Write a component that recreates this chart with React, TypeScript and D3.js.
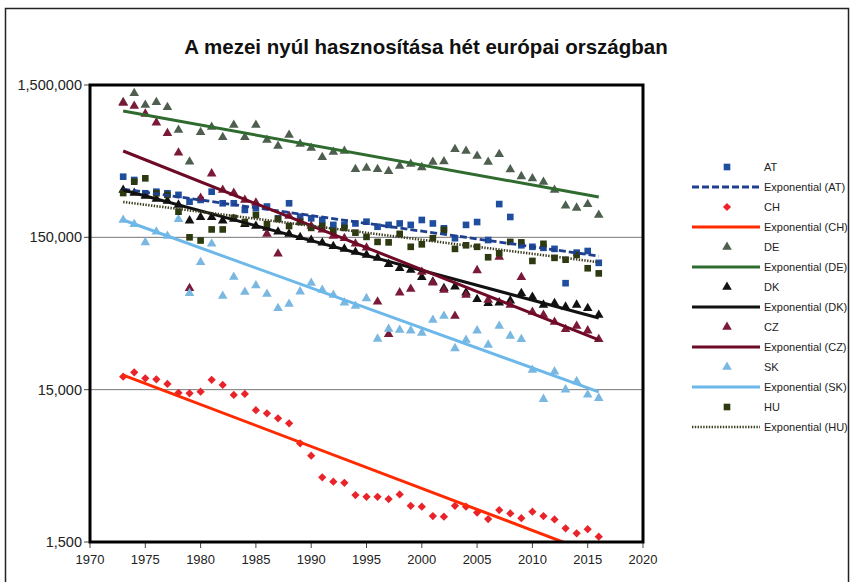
import React from "react";
import * as d3 from "d3";

const years = [1973,1974,1975,1976,1977,1978,1979,1980,1981,1982,1983,1984,1985,1986,1987,1988,1989,1990,1991,1992,1993,1994,1995,1996,1997,1998,1999,2000,2001,2002,2003,2004,2005,2006,2007,2008,2009,2010,2011,2012,2013,2014,2015,2016];

const AT = [375000,357000,292000,299000,292000,285000,257000,264000,299000,251000,251000,227000,233000,239000,200000,251000,205000,200000,195000,181000,181000,185000,190000,176000,181000,185000,181000,195000,185000,172000,148000,181000,189000,144000,248000,204000,133000,130000,128000,126000,75000,119000,122000,102000];
const CH = [18250,19500,17800,17550,16350,14300,14200,14550,17400,16100,13850,14050,11000,10500,9730,9020,6670,5530,3990,3730,3670,3050,2970,2970,2870,3080,2590,2560,2220,2200,2590,2560,2340,2120,2430,2310,2150,2370,2220,2110,1845,1710,1820,1625];
const DE = [1155000,1323000,1109000,1155000,1071000,760000,470000,734000,795000,680000,820000,680000,820000,653000,597000,705000,615000,579000,503000,545000,553000,420000,428000,420000,407000,441000,454000,432000,468000,472000,568000,553000,513000,468000,526000,418000,377000,365000,346000,307000,242000,234000,247000,210000];
const DK = [307000,293000,280000,268000,260000,245000,193000,203000,203000,193000,198000,183000,178000,173000,163000,158000,150000,144000,138000,131000,126000,120000,115000,110000,100000,94000,91600,82000,76700,69500,71200,65000,58800,55300,55900,57600,64400,60900,54000,55300,52400,54000,51300,46400];
const CZ = [1142000,1091000,969000,849000,723000,539000,69400,272000,393000,307000,293000,264000,253000,158000,117000,207000,189000,178000,168000,153000,148000,136000,128000,56700,34700,65000,68700,88900,75600,67700,45700,62700,91000,58200,111600,54000,82000,48500,46400,41700,37400,39300,36600,32100];
const SK = [195000,183000,139000,163000,153000,197000,64400,103000,136000,61800,82400,65700,72400,63700,51300,54800,66000,75200,67700,62700,55900,53100,59600,32300,37500,37000,36600,35400,43000,45700,28000,31800,36600,29500,39300,33800,32100,20200,13000,19700,15000,17000,13900,13200];
const HU = [293000,348000,366000,292000,285000,221000,150000,143000,169000,169000,201000,189000,210000,183000,198000,178000,189000,173000,178000,165000,173000,161000,151000,140000,139000,158000,130000,135000,148000,168000,126000,133000,130000,111000,118000,140000,139000,105000,136000,110000,107000,115000,94000,87000];

const seriesNames = ["AT", "CH", "DE", "DK", "CZ", "SK", "HU"];
const seriesValues = [AT, CH, DE, DK, CZ, SK, HU];
// exponential trend values at first and last year
const trendStart = [311000, 18700, 1012000, 307000, 553000, 195000, 256000];
const trendEnd = [113000, 1221, 276000, 44300, 31800, 14500, 103000];

const xTicks = [1970, 1975, 1980, 1985, 1990, 1995, 2000, 2005, 2010, 2015, 2020];
const yTicks = [1500, 15000, 150000, 1500000];
const title = "A mezei nyúl hasznosítása hét európai országban";

const styles: Record<string, { marker: string; shape: string; line: string; width: number; dash?: string }> = {
  AT: { marker: "#1f4e9e", shape: "square", line: "#1f3f8f", width: 2.8, dash: "7,3" },
  CH: { marker: "#e8242a", shape: "diamond", line: "#ff2a00", width: 3 },
  DE: { marker: "#4f5f4f", shape: "triangle", line: "#2f6a2f", width: 3 },
  DK: { marker: "#111111", shape: "triangle", line: "#111111", width: 3 },
  CZ: { marker: "#7a1a38", shape: "triangle", line: "#6e0a26", width: 3 },
  SK: { marker: "#7ab8e2", shape: "triangle", line: "#6cb8ea", width: 3 },
  HU: { marker: "#2d3a10", shape: "square", line: "#3c3c20", width: 2.6, dash: "1.4,1.4" },
};

const FONT = "Arial, 'Liberation Sans', sans-serif";

function markerPath(shape: string) {
  if (shape === "triangle") return d3.symbol().type(d3.symbolTriangle).size(40)();
  return d3.symbol().type(d3.symbolSquare).size(shape === "diamond" ? 34 : 44)();
}

export default function App() {
  const W = 851, H = 582;
  const x = d3.scaleLinear().domain([1970, 2020]).range([90, 643]);
  const y = d3.scaleLog().domain([1500, 1500000]).range([542, 85]);
  const fmt = d3.format(",");
  const line = d3.line<[number, number]>().x((d) => x(d[0])).y((d) => y(d[1]));

  const legendY0 = 167, legendStep = 20;

  return (
    <svg width={W} height={H} style={{ position: "absolute", left: 0, top: 0, background: "#fff" }} fontFamily={FONT}>
      <defs>
        <clipPath id="plot">
          <rect x={x(1970)} y={y(1500000)} width={x(2020) - x(1970)} height={y(1500) - y(1500000)} />
        </clipPath>
      </defs>
      <rect x={0} y={0} width={W} height={H} fill="#fff" />
      <rect x={5.5} y={8.5} width={843} height={620} fill="none" stroke="#222" strokeWidth={1.5} />
      <text x={426} y={54} textAnchor="middle" fontSize={20.5} fontWeight="bold" fill="#111">{title}</text>

      {/* grid */}
      {yTicks.slice(1, -1).map((t) => (
        <line key={t} x1={x(1970)} x2={x(2020)} y1={y(t)} y2={y(t)} stroke="#777" strokeWidth={1} />
      ))}

      {/* y axis ticks */}
      {yTicks.map((t) => (
        <g key={t}>
          <line x1={x(1970) - 6} x2={x(1970)} y1={y(t)} y2={y(t)} stroke="#444" strokeWidth={1} />
          <text x={x(1970) - 8} y={y(t) + 5} textAnchor="end" fontSize={14.5} fill="#222">{fmt(t)}</text>
        </g>
      ))}
      {/* x axis ticks */}
      {xTicks.map((t) => (
        <g key={t}>
          <line x1={x(t)} x2={x(t)} y1={y(1500)} y2={y(1500) + 6} stroke="#444" strokeWidth={1} />
          <text x={x(t)} y={y(1500) + 22} textAnchor="middle" fontSize={13} fill="#222">{t}</text>
        </g>
      ))}

      <g clipPath="url(#plot)">
        {seriesNames.map((name, si) => {
          const st = styles[name];
          const p = markerPath(st.shape);
          return (
            <g key={name}>
              {seriesValues[si].map((v, i) => (
                <path key={i} d={p} fill={st.marker}
                  transform={`translate(${x(years[i])},${y(v)})${st.shape === "diamond" ? " rotate(45)" : ""}`} />
              ))}
            </g>
          );
        })}
        {seriesNames.map((name, si) => {
          const st = styles[name];
          const pts: [number, number][] = [[years[0], trendStart[si]], [years[years.length - 1], trendEnd[si]]];
          return (
            <path key={name} d={line(pts) || ""} fill="none" stroke={st.line} strokeWidth={st.width}
              strokeDasharray={st.dash} />
          );
        })}
      </g>

      {/* frame */}
      <rect x={x(1970)} y={y(1500000)} width={x(2020) - x(1970)} height={y(1500) - y(1500000)} fill="none" stroke="#000" strokeWidth={3} />

      {/* legend */}
      {seriesNames.map((name, si) => {
        const st = styles[name];
        const ym = legendY0 + si * 2 * legendStep;
        const yl = ym + legendStep;
        return (
          <g key={name}>
            <path d={markerPath(st.shape)} fill={st.marker}
              transform={`translate(727,${ym})${st.shape === "diamond" ? " rotate(45)" : ""}`} />
            <text x={764} y={ym + 4} fontSize={11} fill="#222">{name}</text>
            <line x1={692} x2={760} y1={yl} y2={yl} stroke={st.line} strokeWidth={st.width} strokeDasharray={st.dash} />
            <text x={764} y={yl + 4} fontSize={11} fill="#222">{`Exponential (${name})`}</text>
          </g>
        );
      })}
    </svg>
  );
}
